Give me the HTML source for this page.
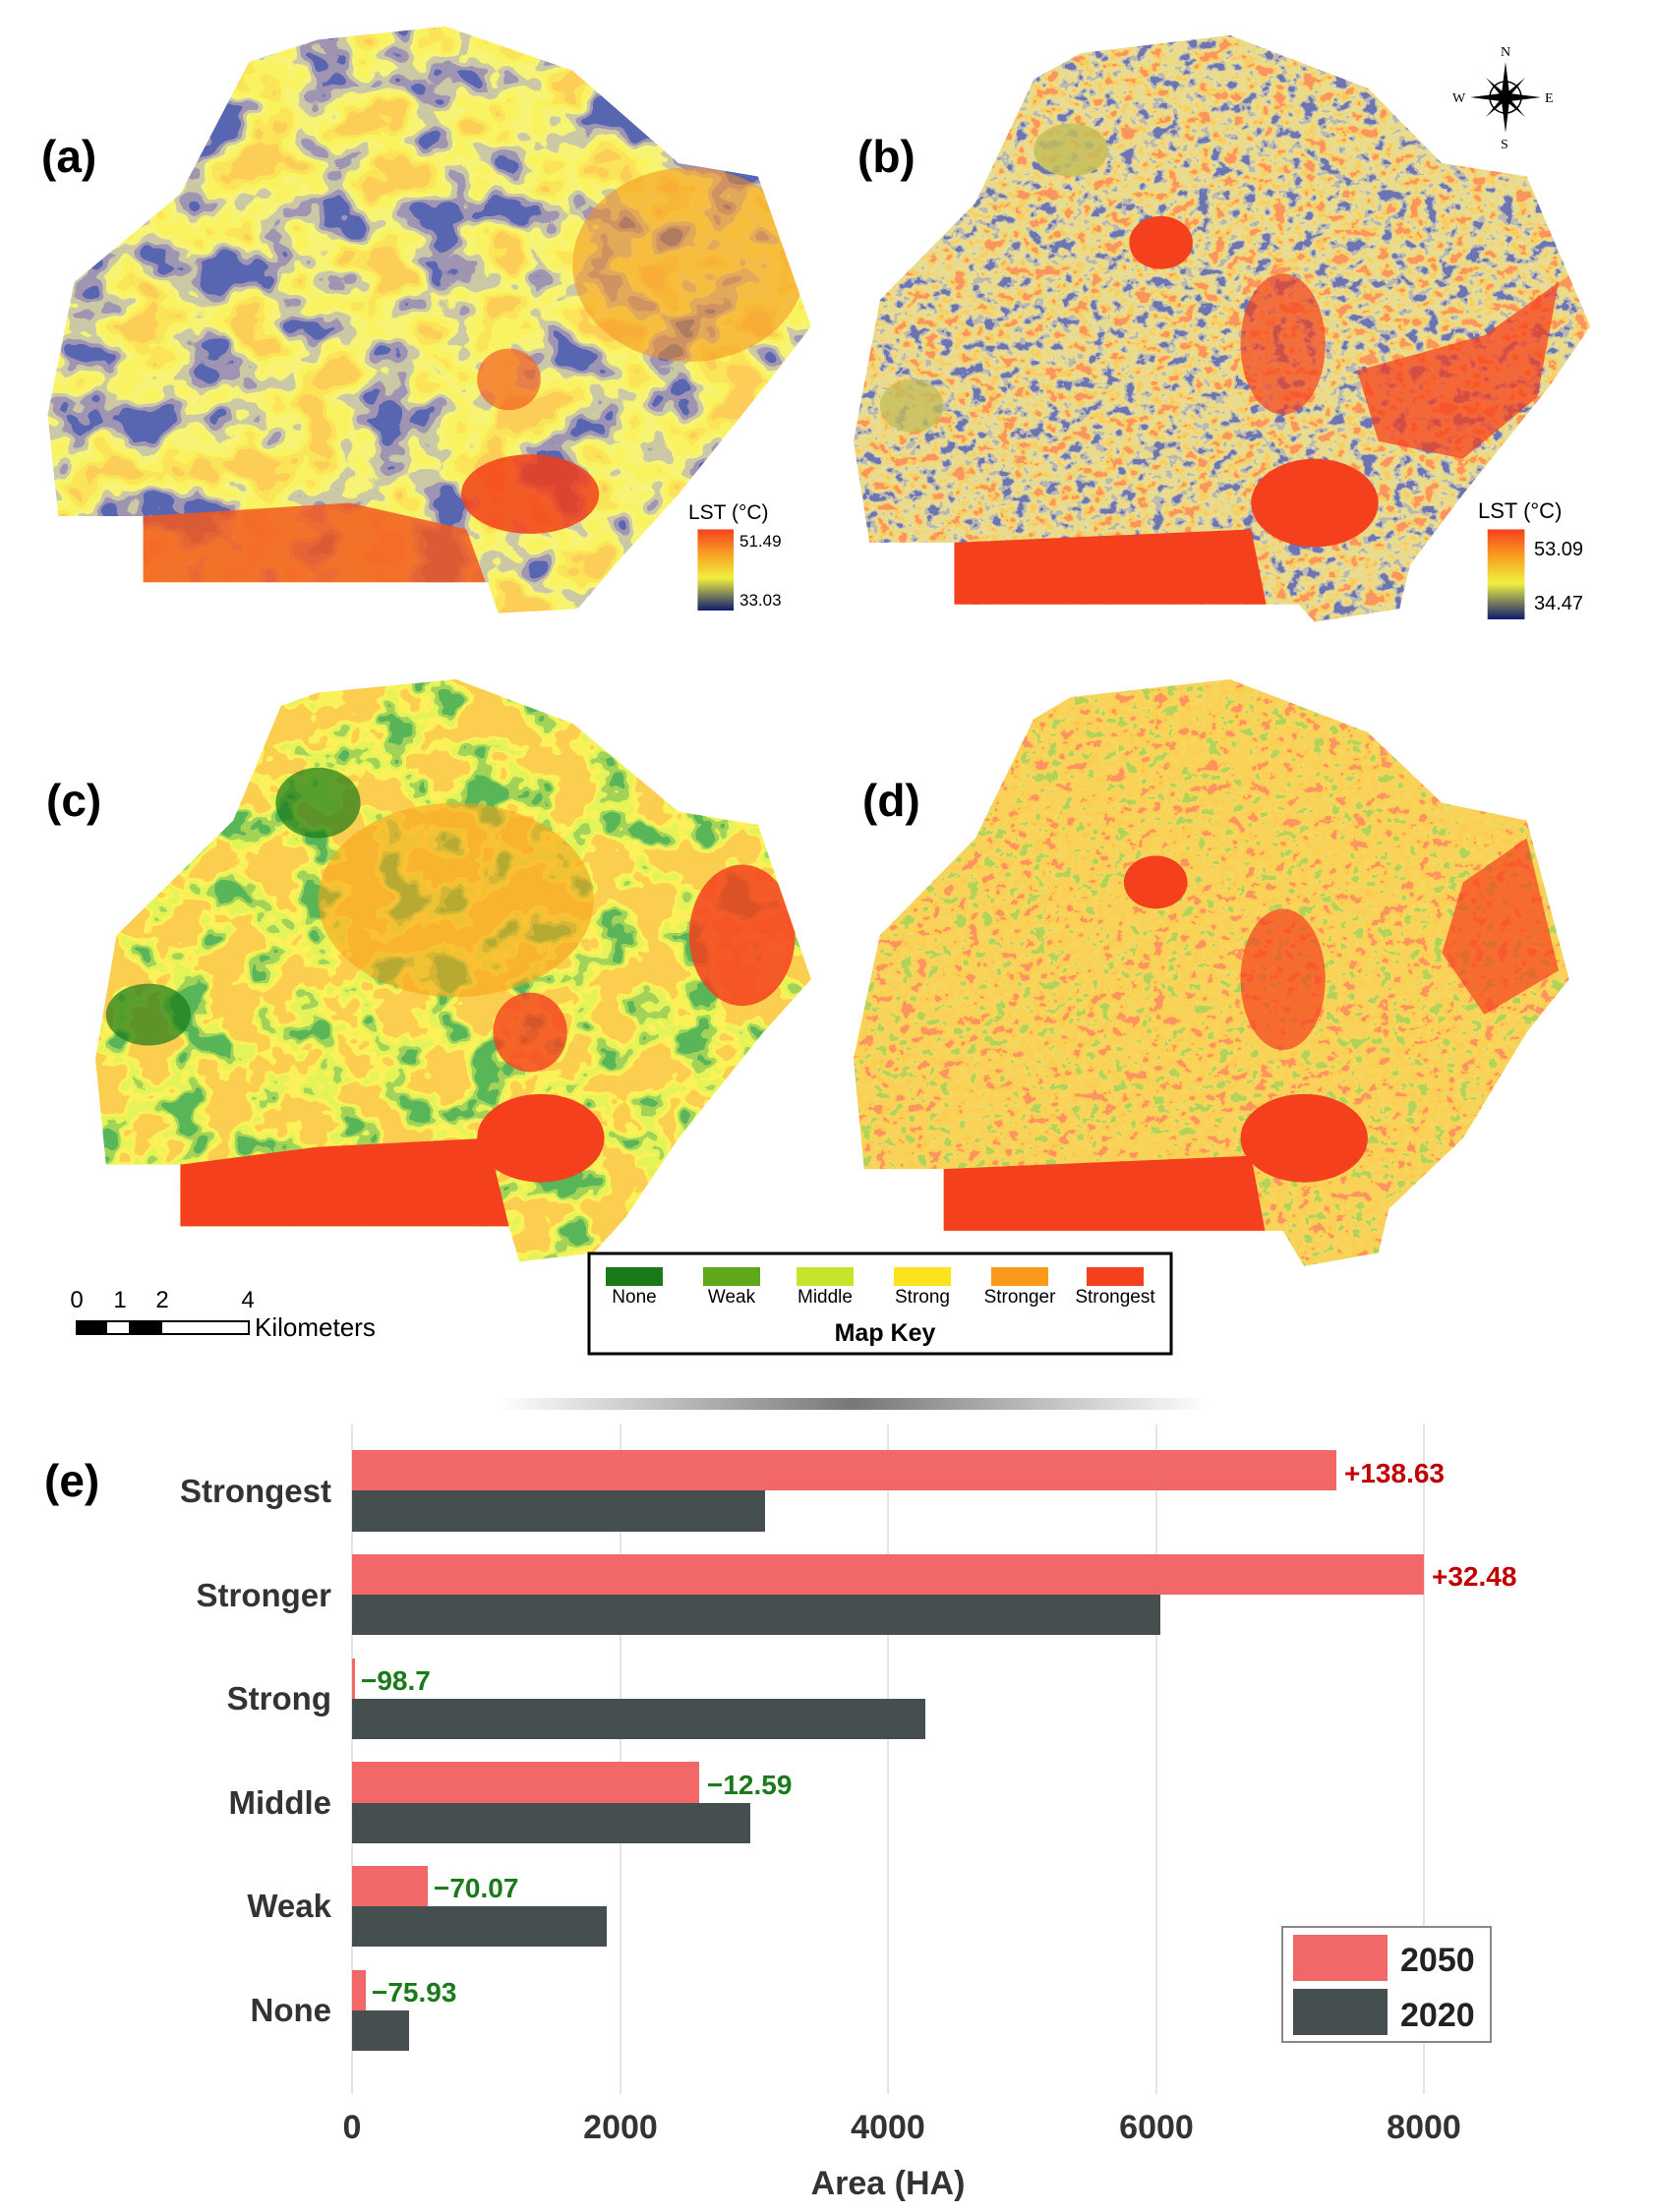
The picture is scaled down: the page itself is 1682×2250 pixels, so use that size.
<!DOCTYPE html>
<html><head><meta charset="utf-8"><style>
body{margin:0;background:#fff;}
#w{position:relative;width:1682px;height:2250px;overflow:hidden;background:#fff;font-family:"Liberation Sans",sans-serif;}
svg{position:absolute;left:0;top:0;}
</style></head><body><div id="w">
<svg width="1682" height="1400" viewBox="0 0 1560 1560" preserveAspectRatio="none">
<defs>
<filter id="fa" x="0" y="0" width="100%" height="100%"><feTurbulence type="fractalNoise" baseFrequency="0.018" numOctaves="3" seed="3"/><feColorMatrix type="matrix" values="2.2 0 0 0 -0.6 2.2 0 0 0 -0.6 2.2 0 0 0 -0.6 0 0 0 0 1"/><feComponentTransfer><feFuncR type="discrete" tableValues="0.1 0.35 0.6 0.93 0.95 0.97 0.98"/><feFuncG type="discrete" tableValues="0.13 0.3 0.58 0.9 0.9 0.78 0.62"/><feFuncB type="discrete" tableValues="0.44 0.45 0.38 0.18 0.12 0.1 0.1"/></feComponentTransfer></filter>
<filter id="fb" x="0" y="0" width="100%" height="100%"><feTurbulence type="fractalNoise" baseFrequency="0.07" numOctaves="3" seed="5"/><feColorMatrix type="matrix" values="2 0 0 0 -0.5 2 0 0 0 -0.5 2 0 0 0 -0.5 0 0 0 0 1"/><feComponentTransfer><feFuncR type="discrete" tableValues="0.15 0.5 0.8 0.85 0.95 0.96"/><feFuncG type="discrete" tableValues="0.18 0.48 0.72 0.7 0.62 0.3"/><feFuncB type="discrete" tableValues="0.45 0.45 0.3 0.25 0.12 0.12"/></feComponentTransfer></filter>
<filter id="fc" x="0" y="0" width="100%" height="100%"><feTurbulence type="fractalNoise" baseFrequency="0.025" numOctaves="3" seed="9"/><feColorMatrix type="matrix" values="2.2 0 0 0 -0.6 2.2 0 0 0 -0.6 2.2 0 0 0 -0.6 0 0 0 0 1"/><feComponentTransfer><feFuncR type="discrete" tableValues="0.1 0.37 0.78 0.98 0.97 0.97 0.97"/><feFuncG type="discrete" tableValues="0.47 0.65 0.9 0.88 0.62 0.62 0.62"/><feFuncB type="discrete" tableValues="0.1 0.1 0.1 0.1 0.08 0.08 0.08"/></feComponentTransfer></filter>
<filter id="fd" x="0" y="0" width="100%" height="100%"><feTurbulence type="fractalNoise" baseFrequency="0.08" numOctaves="3" seed="2"/><feColorMatrix type="matrix" values="2 0 0 0 -0.5 2 0 0 0 -0.5 2 0 0 0 -0.5 0 0 0 0 1"/><feComponentTransfer><feFuncR type="discrete" tableValues="0.45 0.9 0.96 0.96 0.97 0.97"/><feFuncG type="discrete" tableValues="0.65 0.68 0.66 0.64 0.62 0.3"/><feFuncB type="discrete" tableValues="0.1 0.12 0.1 0.1 0.08 0.12"/></feComponentTransfer></filter>
<clipPath id="ca"><polygon points="235,70 300,45 420,30 540,80 640,185 715,200 765,370 720,440 640,560 580,640 545,690 470,695 460,660 135,660 135,585 55,585 45,470 70,320 170,220"/></clipPath>
<clipPath id="cb"><polygon points="975,90 1020,60 1160,40 1290,100 1360,185 1440,200 1500,370 1460,440 1380,560 1330,640 1320,690 1240,705 1225,685 900,685 900,615 820,615 805,500 830,340 920,230"/></clipPath>
<clipPath id="cc"><polygon points="265,800 300,785 430,770 540,820 640,920 715,935 765,1110 720,1170 640,1290 590,1380 560,1420 490,1430 480,1390 170,1390 170,1320 100,1320 90,1200 110,1060 220,930"/></clipPath>
<clipPath id="cd"><polygon points="975,815 1010,790 1160,770 1290,830 1360,910 1440,930 1480,1110 1440,1170 1380,1290 1310,1370 1300,1420 1230,1435 1210,1395 890,1395 890,1325 815,1325 805,1200 830,1060 920,950"/></clipPath>
<linearGradient id="lg" x1="0" y1="0" x2="0" y2="1"><stop offset="0" stop-color="#f5401e"/><stop offset="0.3" stop-color="#f8a020"/><stop offset="0.6" stop-color="#f0f040"/><stop offset="1" stop-color="#101a70"/></linearGradient>
</defs>
<g clip-path="url(#ca)"><rect x="0" y="0" width="780" height="720" filter="url(#fa)"/>
<path d="M135,585 L330,570 L440,600 L470,700 L135,700Z" fill="#f25a1e" opacity="0.85"/>
<ellipse cx="650" cy="300" rx="110" ry="110" fill="#f5901e" opacity="0.55"/>
<ellipse cx="500" cy="560" rx="65" ry="45" fill="#f2401a" opacity="0.85"/>
<ellipse cx="480" cy="430" rx="30" ry="35" fill="#f26020" opacity="0.7"/></g>
<g clip-path="url(#cb)"><rect x="790" y="0" width="720" height="720" filter="url(#fb)"/>
<path d="M900,615 L1180,600 L1200,720 L900,720Z" fill="#f5401e"/>
<ellipse cx="1240" cy="570" rx="60" ry="50" fill="#f5401e"/>
<path d="M1280,420 L1400,380 L1470,320 L1450,450 L1380,520 L1300,500Z" fill="#f5401e" opacity="0.75"/>
<ellipse cx="1095" cy="275" rx="30" ry="30" fill="#f5401e"/>
<ellipse cx="1210" cy="390" rx="40" ry="80" fill="#f5401e" opacity="0.7"/>
<ellipse cx="1010" cy="170" rx="35" ry="30" fill="#c4be5c" opacity="0.85"/>
<ellipse cx="860" cy="460" rx="30" ry="30" fill="#c4be5c" opacity="0.8"/></g>
<g clip-path="url(#cc)"><rect x="0" y="740" width="780" height="720" filter="url(#fc)"/>
<path d="M170,1320 L300,1300 L460,1290 L490,1440 L170,1440Z" fill="#f5401e"/>
<ellipse cx="510" cy="1290" rx="60" ry="50" fill="#f5401e"/>
<ellipse cx="700" cy="1060" rx="50" ry="80" fill="#f5401e" opacity="0.85"/>
<ellipse cx="500" cy="1170" rx="35" ry="45" fill="#f5401e" opacity="0.8"/>
<ellipse cx="430" cy="1020" rx="130" ry="110" fill="#f7a21b" opacity="0.6"/>
<ellipse cx="300" cy="910" rx="40" ry="40" fill="#1a7a1a" opacity="0.7"/>
<ellipse cx="140" cy="1150" rx="40" ry="35" fill="#1a7a1a" opacity="0.7"/></g>
<g clip-path="url(#cd)"><rect x="790" y="740" width="720" height="720" filter="url(#fd)"/>
<path d="M890,1325 L1180,1310 L1200,1440 L890,1440Z" fill="#f5401e"/>
<ellipse cx="1230" cy="1290" rx="60" ry="50" fill="#f5401e"/>
<ellipse cx="1090" cy="1000" rx="30" ry="30" fill="#f5401e"/>
<ellipse cx="1210" cy="1110" rx="40" ry="80" fill="#f5401e" opacity="0.7"/>
<path d="M1380,1000 L1440,950 L1470,1100 L1400,1150 L1360,1080Z" fill="#f5401e" opacity="0.7"/></g>
<rect x="658" y="600" width="34" height="92" fill="url(#lg)"/>
<rect x="1403" y="600" width="35" height="102" fill="url(#lg)"/>
</svg>
<svg width="1682" height="2250" viewBox="0 0 1682 2250">
<g font-family="Liberation Sans,sans-serif" font-weight="bold" font-size="46" fill="#000">
<text x="42" y="175">(a)</text><text x="872" y="175">(b)</text><text x="47" y="830">(c)</text><text x="877" y="830">(d)</text></g>
<g font-family="Liberation Sans,sans-serif" fill="#000">
<text x="700" y="528" font-size="21">LST (°C)</text><text x="752" y="556" font-size="17">51.49</text><text x="752" y="616" font-size="17">33.03</text>
<text x="1503" y="527" font-size="22">LST (°C)</text><text x="1560" y="565" font-size="20">53.09</text><text x="1560" y="620" font-size="20">34.47</text>
</g>
<g transform="translate(1531,99)"><polygon points="0,-36 4,-4 0,0 -4,-4" fill="#000"/><polygon points="0,36 4,4 0,0 -4,4" fill="#000"/><polygon points="-36,0 -4,-4 0,0 -4,4" fill="#000"/><polygon points="36,0 4,-4 0,0 4,4" fill="#000"/><polygon points="20,-20 2,-5 0,0 5,-2" fill="#000"/><polygon points="-20,20 -2,5 0,0 -5,2" fill="#000"/><polygon points="-20,-20 -5,-2 0,0 -2,-5" fill="#000"/><polygon points="20,20 5,2 0,0 2,5" fill="#000"/><circle r="16" fill="none" stroke="#000" stroke-width="1.5"/>
<text x="-5" y="-42" font-size="14" font-family="Liberation Serif,serif">N</text><text x="-5" y="52" font-size="14" font-family="Liberation Serif,serif">S</text><text x="-54" y="5" font-size="14" font-family="Liberation Serif,serif">W</text><text x="40" y="5" font-size="14" font-family="Liberation Serif,serif">E</text></g>
<rect x="599" y="1275" width="592" height="102" fill="#fff" stroke="#000" stroke-width="3"/>
<g font-family="Liberation Sans,sans-serif" font-size="19" fill="#000" text-anchor="middle">
<rect x="616" y="1289" width="58" height="19" fill="#1a7a1a"/><text x="645" y="1325">None</text>
<rect x="715" y="1289" width="58" height="19" fill="#5fa81a"/><text x="744" y="1325">Weak</text>
<rect x="810" y="1289" width="58" height="19" fill="#c6e52a"/><text x="839" y="1325">Middle</text>
<rect x="909" y="1289" width="58" height="19" fill="#fde31c"/><text x="938" y="1325">Strong</text>
<rect x="1008" y="1289" width="58" height="19" fill="#fb9a1a"/><text x="1037" y="1325">Stronger</text>
<rect x="1105" y="1289" width="58" height="19" fill="#f5401e"/><text x="1134" y="1325">Strongest</text>
<text x="900" y="1364" font-size="25" font-weight="bold">Map Key</text></g>
<g font-family="Liberation Sans,sans-serif" font-size="24" fill="#000" text-anchor="middle">
<text x="78" y="1330">0</text><text x="122" y="1330">1</text><text x="165" y="1330">2</text><text x="252" y="1330">4</text></g>
<rect x="78" y="1344" width="175" height="13" fill="#fff" stroke="#000" stroke-width="2"/>
<rect x="78" y="1344" width="31" height="13" fill="#000"/><rect x="131" y="1344" width="34" height="13" fill="#000"/>
<text x="259" y="1359" font-family="Liberation Sans,sans-serif" font-size="26">Kilometers</text>
<defs><linearGradient id="gb" x1="0" x2="1"><stop offset="0" stop-color="#fff"/><stop offset="0.5" stop-color="#777"/><stop offset="1" stop-color="#fff"/></linearGradient></defs>
<rect x="507" y="1422" width="722" height="12" fill="url(#gb)"/>
<g stroke="#e4e4e4" stroke-width="2"><line x1="358" y1="1449" x2="358" y2="2130"/><line x1="631" y1="1449" x2="631" y2="2130"/><line x1="903" y1="1449" x2="903" y2="2130"/><line x1="1176" y1="1449" x2="1176" y2="2130"/><line x1="1448" y1="1449" x2="1448" y2="2130"/></g>
<g fill="#f26868"><rect x="358" y="1475" width="1001" height="41"/><rect x="358" y="1581" width="1090" height="41"/><rect x="358" y="1687" width="3" height="41"/><rect x="358" y="1792" width="353" height="42"/><rect x="358" y="1898" width="77" height="41"/><rect x="358" y="2004" width="14" height="41"/></g>
<g fill="#454f50"><rect x="358" y="1516" width="420" height="42"/><rect x="358" y="1622" width="822" height="41"/><rect x="358" y="1728" width="583" height="41"/><rect x="358" y="1834" width="405" height="41"/><rect x="358" y="1939" width="259" height="41"/><rect x="358" y="2045" width="58" height="41"/></g>
<g font-family="Liberation Sans,sans-serif" font-weight="bold" font-size="28">
<text x="1367" y="1508" fill="#c00000">+138.63</text><text x="1456" y="1613" fill="#c00000">+32.48</text>
<text x="367" y="1719" fill="#1a7a1a">−98.7</text><text x="719" y="1825" fill="#1a7a1a">−12.59</text><text x="441" y="1930" fill="#1a7a1a">−70.07</text><text x="378" y="2036" fill="#1a7a1a">−75.93</text></g>
<g font-family="Liberation Sans,sans-serif" font-weight="bold" font-size="33" fill="#333" text-anchor="end">
<text x="337" y="1528">Strongest</text><text x="337" y="1634">Stronger</text><text x="337" y="1739">Strong</text><text x="337" y="1845">Middle</text><text x="337" y="1950">Weak</text><text x="337" y="2056">None</text></g>
<text x="45" y="1522" font-family="Liberation Sans,sans-serif" font-weight="bold" font-size="46">(e)</text>
<g font-family="Liberation Sans,sans-serif" font-weight="bold" font-size="34" fill="#333" text-anchor="middle">
<text x="358" y="2175">0</text><text x="631" y="2175">2000</text><text x="903" y="2175">4000</text><text x="1176" y="2175">6000</text><text x="1448" y="2175">8000</text>
<text x="903" y="2232">Area (HA)</text></g>
<rect x="1304" y="1960" width="212" height="117" fill="#fff" stroke="#888" stroke-width="2"/>
<rect x="1315" y="1968" width="96" height="47" fill="#f26868"/><rect x="1315" y="2023" width="96" height="47" fill="#454f50"/>
<g font-family="Liberation Sans,sans-serif" font-weight="bold" font-size="34" fill="#222"><text x="1424" y="2005">2050</text><text x="1424" y="2061">2020</text></g>
</svg>
</div></body></html>
